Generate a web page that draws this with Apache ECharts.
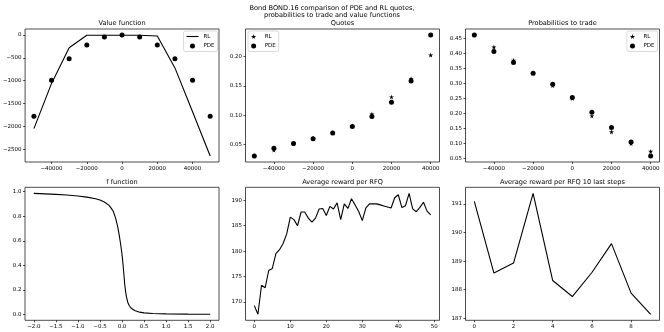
<!DOCTYPE html>
<html><head><meta charset="utf-8">
<script src="https://cdn.jsdelivr.net/npm/echarts@6/dist/echarts.min.js"></script>
<style>html,body{margin:0;padding:0;background:#fff}#c{width:664px;height:332px}</style>
</head><body><div id="c"></div>
<script>
// ---- data ----
const suptitle = ['Bond BOND.16 comparison of PDE and RL quotes,', 'probabilities to trade and value functions'];
const panelTitles = ['Value function', 'Quotes', 'Probabilities to trade', 'f function', 'Average reward per RFQ', 'Average reward per RFQ 10 last steps'];

const vfX = [-50000, -40000, -30000, -20000, -10000, 0, 10000, 20000, 30000, 40000, 50000];
const vfRL = [-2050, -1060, -280, -5, -5, -5, -5, -20, -720, -1680, -2650];
const vfPDE = [-1780, -990, -520, -220, -44, 0, -44, -220, -520, -990, -1780];

const qX = [-50000, -40000, -30000, -20000, -10000, 0, 10000, 20000, 30000, 40000];
const quotesRL = [0.031, 0.041, 0.052, 0.061, 0.070, 0.082, 0.102, 0.131, 0.162, 0.202];
const quotesPDE = [0.031, 0.044, 0.052, 0.060, 0.070, 0.081, 0.098, 0.122, 0.158, 0.236];

const probsRL = [0.461, 0.421, 0.377, 0.334, 0.293, 0.250, 0.192, 0.139, 0.100, 0.074];
const probsPDE = [0.461, 0.406, 0.370, 0.334, 0.297, 0.253, 0.204, 0.154, 0.105, 0.059];

const fX = [-2.0, -1.75, -1.5, -1.25, -1.0, -0.8, -0.6, -0.5, -0.4, -0.3, -0.25, -0.2, -0.15, -0.1, -0.06, -0.03, 0.0, 0.02, 0.04, 0.06, 0.08, 0.1, 0.13, 0.16, 0.2, 0.25, 0.3, 0.4, 0.5, 0.7, 1.0, 1.5, 2.0];
const fY = [0.986, 0.982, 0.978, 0.972, 0.964, 0.955, 0.942, 0.932, 0.916, 0.89, 0.868, 0.84, 0.79, 0.72, 0.64, 0.57, 0.49, 0.42, 0.34, 0.25, 0.19, 0.145, 0.10, 0.075, 0.055, 0.04, 0.03, 0.019, 0.013, 0.008, 0.005, 0.003, 0.002];

const reward = [169.3, 167.6, 173.3, 172.8, 176.2, 176.6, 179.5, 180.3, 181.5, 183.4,
  186.7, 186.2, 185.0, 187.7, 187.7, 186.5, 185.7, 186.5, 188.3, 188.4,
  187.0, 188.8, 188.3, 189.5, 186.2, 189.3, 188.4, 190.3, 189.1, 187.8,
  186.0, 188.5, 189.3, 189.3, 189.3, 189.1, 188.9, 188.7, 188.5, 190.5,
  191.09, 188.58, 188.93, 191.37, 188.32, 187.76, 188.6, 189.61, 187.88, 187.14];
const last10 = [191.09, 188.58, 188.93, 191.37, 188.32, 187.76, 188.6, 189.61, 187.88, 187.14];

const ticksQX = [-40000, -20000, 0, 20000, 40000];
const ticksVY = [0, -500, -1000, -1500, -2000, -2500];
const ticksQY = [0.05, 0.10, 0.15, 0.20];
const ticksPY = [0.05, 0.10, 0.15, 0.20, 0.25, 0.30, 0.35, 0.40, 0.45];
const ticksFX = [-2.0, -1.5, -1.0, -0.5, 0.0, 0.5, 1.0, 1.5, 2.0];
const ticksFY = [0.0, 0.2, 0.4, 0.6, 0.8, 1.0];
const ticksRX = [0, 10, 20, 30, 40, 50];
const ticksRY = [170, 175, 180, 185, 190];
const ticksLX = [0, 2, 4, 6, 8];
const ticksLY = [187, 188, 189, 190, 191];

// ---- helpers ----
const FONT = 'DejaVu Sans';
const TICK = 5.5, TTL = 6.6;
function pad(arr) {
  const lo = Math.min(...arr), hi = Math.max(...arr), d = (hi - lo) * 0.05;
  return [lo - d, hi + d];
}
function fmt(dec) {
  return v => Number(v).toFixed(dec).replace('-', '\u2212');
}
function axis(kind, gi, range, ticks, dec) {
  return {
    gridIndex: gi, type: 'value', min: range[0], max: range[1],
    position: kind === 'x' ? 'bottom' : 'left',
    axisLine: { show: false, onZero: false }, splitLine: { show: false },
    axisTick: { show: true, inside: false, length: 2, lineStyle: { color: '#000', width: 0.7 }, customValues: ticks },
    axisLabel: { customValues: ticks, formatter: fmt(dec), fontSize: TICK, color: '#000', fontFamily: FONT, margin: 3.5 }
  };
}
const pairs = (xs, ys) => xs.map((x, i) => [x, ys[i]]);
const idx = n => Array.from({ length: n }, (_, i) => i);

const W = 194, H = 133;
const lefts = [25, 245.5, 465.5];
const tops = [29, 187.3];
const grids = [];
for (let r = 0; r < 2; r++) for (let c = 0; c < 3; c++)
  grids.push({ left: lefts[c], top: tops[r], width: W, height: H, show: true, borderColor: '#000', borderWidth: 0.7, backgroundColor: 'transparent', containLabel: false });

const STAR = 'path://M50,0 L61,35 L98,35 L68,57 L79,91 L50,70 L21,91 L32,57 L2,35 L39,35 Z';
const LINEICON = 'path://M0,0 L120,0 L120,11 L0,11 Z';

const xAxes = [
  axis('x', 0, pad(vfX), ticksQX, 0),
  axis('x', 1, pad(qX), ticksQX, 0),
  axis('x', 2, pad(qX), ticksQX, 0),
  axis('x', 3, pad(fX), ticksFX, 1),
  axis('x', 4, pad(idx(reward.length)), ticksRX, 0),
  axis('x', 5, pad(idx(last10.length)), ticksLX, 0)
];
const yAxes = [
  axis('y', 0, pad(vfRL.concat(vfPDE)), ticksVY, 0),
  axis('y', 1, pad(quotesRL.concat(quotesPDE)), ticksQY, 2),
  axis('y', 2, pad(probsRL.concat(probsPDE)), ticksPY, 2),
  axis('y', 3, pad(fY), ticksFY, 1),
  axis('y', 4, pad(reward), ticksRY, 0),
  axis('y', 5, pad(last10), ticksLY, 0)
];

const lineS = (name, i, data) => ({ name, type: 'line', xAxisIndex: i, yAxisIndex: i, data, symbol: 'none', lineStyle: { color: '#000', width: 1.1 }, itemStyle: { color: '#000', opacity: 1 }, silent: true });
const dotS = (name, i, data) => ({ name, type: 'scatter', xAxisIndex: i, yAxisIndex: i, data, symbol: 'circle', symbolSize: 5, itemStyle: { color: '#000', opacity: 1 }, silent: true });
const starS = (name, i, data) => ({ name, type: 'scatter', xAxisIndex: i, yAxisIndex: i, data, symbol: STAR, symbolSize: 5, itemStyle: { color: '#000', opacity: 1 }, silent: true });

const series = [
  lineS('RL_v', 0, pairs(vfX, vfRL)),
  dotS('PDE_v', 0, pairs(vfX, vfPDE)),
  starS('RL_q', 1, pairs(qX, quotesRL)),
  dotS('PDE_q', 1, pairs(qX, quotesPDE)),
  starS('RL_p', 2, pairs(qX, probsRL)),
  dotS('PDE_p', 2, pairs(qX, probsPDE)),
  lineS('f', 3, pairs(fX, fY)),
  lineS('reward', 4, pairs(idx(reward.length), reward)),
  lineS('last10', 5, pairs(idx(last10.length), last10))
];

const legendBase = {
  orient: 'vertical', itemWidth: 12, itemHeight: 5, itemGap: 3.5, padding: [2.5, 3, 2.5, 3],
  borderColor: '#cccccc', borderWidth: 0.7, borderRadius: 2, backgroundColor: 'rgba(255,255,255,0.8)',
  textStyle: { fontSize: TICK, color: '#000', fontFamily: FONT },
  formatter: n => n.split('_')[0], selectedMode: false
};
const legends = [
  Object.assign({}, legendBase, { data: [{ name: 'RL_v', icon: LINEICON, itemStyle: { color: '#000', opacity: 1 } }, { name: 'PDE_v', icon: 'circle', itemStyle: { color: '#000', opacity: 1 } }], right: 664 - 217.5, top: 31 }),
  Object.assign({}, legendBase, { data: [{ name: 'RL_q', icon: STAR, itemStyle: { color: '#000', opacity: 1 } }, { name: 'PDE_q', icon: 'circle', itemStyle: { color: '#000', opacity: 1 } }], left: 248, top: 31 }),
  Object.assign({}, legendBase, { data: [{ name: 'RL_p', icon: STAR, itemStyle: { color: '#000', opacity: 1 } }, { name: 'PDE_p', icon: 'circle', itemStyle: { color: '#000', opacity: 1 } }], right: 664 - 657.5, top: 31 })
];

const titleText = (text, x, y) => ({ type: 'text', x, y, style: { text, fontSize: TTL, fill: '#000', fontFamily: FONT, textAlign: 'center', textVerticalAlign: 'middle' } });
const graphics = [
  titleText(suptitle[0], 332, 8),
  titleText(suptitle[1], 332, 15.5)
];
for (let r = 0; r < 2; r++) for (let c = 0; c < 3; c++)
  graphics.push(titleText(panelTitles[r * 3 + c], lefts[c] + W / 2, tops[r] - 5.5));

const chart = echarts.init(document.getElementById('c'), null, { renderer: 'canvas' });
chart.setOption({
  animation: false, backgroundColor: '#fff',
  grid: grids, xAxis: xAxes, yAxis: yAxes, series, legend: legends, graphic: graphics
});
</script></body></html>
